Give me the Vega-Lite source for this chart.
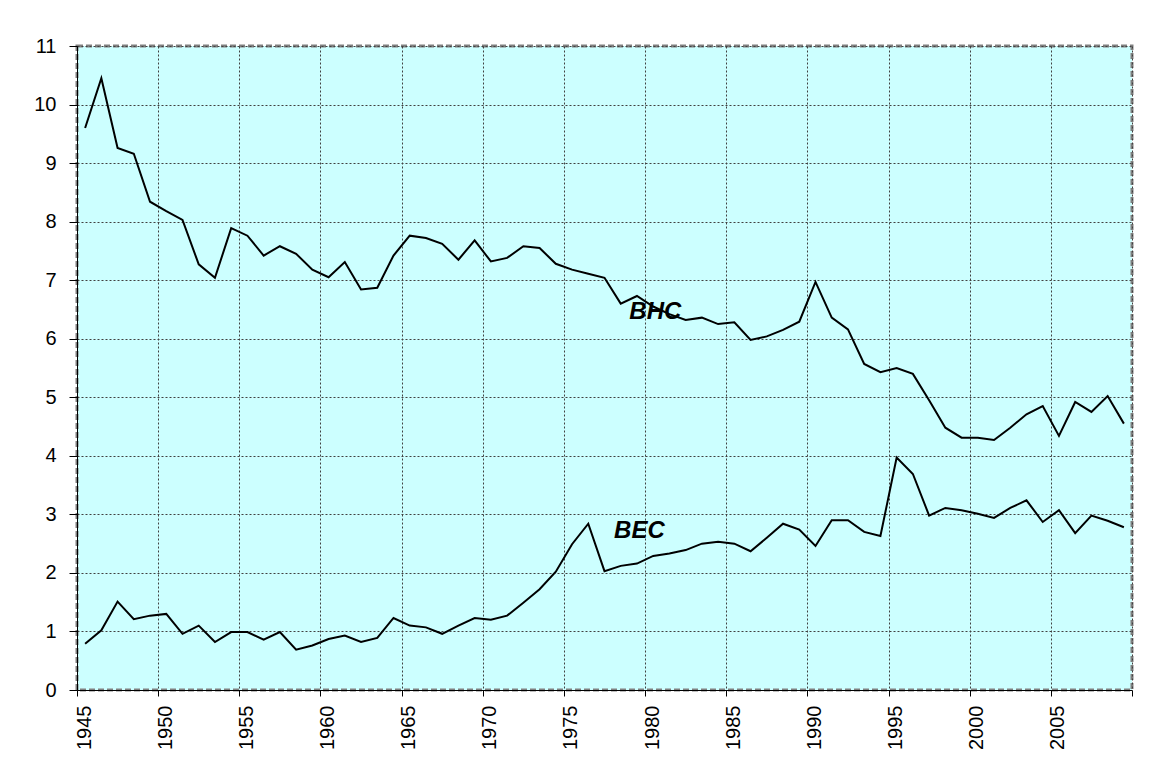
{
  "$schema": "https://vega.github.io/schema/vega-lite/v6.json",
  "width": 1055,
  "height": 644,
  "autosize": {"type": "none"},
  "padding": {"left": 77, "top": 46, "right": 43, "bottom": 86},
  "background": "white",
  "config": {
    "font": "Liberation Sans",
    "view": {"fill": "#CCFFFF", "stroke": "#808080", "strokeWidth": 3, "strokeDash": [6, 3]},
    "axis": {
      "domainColor": "#000000",
      "domainWidth": 1,
      "tickColor": "#000000",
      "tickWidth": 1,
      "gridColor": "#404040",
      "gridDash": [2, 2],
      "gridWidth": 1,
      "gridOpacity": 1,
      "labelColor": "#000000",
      "labelFont": "Liberation Sans",
      "labelFontSize": 20,
      "title": null
    }
  },
  "datasets": {
    "series": [
      {"year": 1945, "BHC": 9.6, "BEC": 0.79},
      {"year": 1946, "BHC": 10.45, "BEC": 1.02},
      {"year": 1947, "BHC": 9.26, "BEC": 1.51},
      {"year": 1948, "BHC": 9.16, "BEC": 1.21},
      {"year": 1949, "BHC": 8.34, "BEC": 1.27},
      {"year": 1950, "BHC": 8.18, "BEC": 1.30},
      {"year": 1951, "BHC": 8.03, "BEC": 0.96},
      {"year": 1952, "BHC": 7.27, "BEC": 1.10},
      {"year": 1953, "BHC": 7.04, "BEC": 0.82},
      {"year": 1954, "BHC": 7.89, "BEC": 0.99},
      {"year": 1955, "BHC": 7.76, "BEC": 0.99},
      {"year": 1956, "BHC": 7.42, "BEC": 0.86},
      {"year": 1957, "BHC": 7.58, "BEC": 0.99},
      {"year": 1958, "BHC": 7.45, "BEC": 0.69},
      {"year": 1959, "BHC": 7.18, "BEC": 0.76},
      {"year": 1960, "BHC": 7.05, "BEC": 0.87},
      {"year": 1961, "BHC": 7.31, "BEC": 0.93},
      {"year": 1962, "BHC": 6.84, "BEC": 0.82},
      {"year": 1963, "BHC": 6.87, "BEC": 0.89},
      {"year": 1964, "BHC": 7.42, "BEC": 1.23},
      {"year": 1965, "BHC": 7.76, "BEC": 1.10},
      {"year": 1966, "BHC": 7.72, "BEC": 1.07},
      {"year": 1967, "BHC": 7.62, "BEC": 0.96},
      {"year": 1968, "BHC": 7.35, "BEC": 1.10},
      {"year": 1969, "BHC": 7.68, "BEC": 1.23},
      {"year": 1970, "BHC": 7.32, "BEC": 1.20},
      {"year": 1971, "BHC": 7.38, "BEC": 1.27},
      {"year": 1972, "BHC": 7.58, "BEC": 1.49},
      {"year": 1973, "BHC": 7.55, "BEC": 1.72},
      {"year": 1974, "BHC": 7.28, "BEC": 2.02},
      {"year": 1975, "BHC": 7.18, "BEC": 2.49},
      {"year": 1976, "BHC": 7.11, "BEC": 2.84},
      {"year": 1977, "BHC": 7.04, "BEC": 2.03},
      {"year": 1978, "BHC": 6.60, "BEC": 2.12},
      {"year": 1979, "BHC": 6.73, "BEC": 2.16},
      {"year": 1980, "BHC": 6.55, "BEC": 2.29},
      {"year": 1981, "BHC": 6.42, "BEC": 2.33},
      {"year": 1982, "BHC": 6.32, "BEC": 2.39},
      {"year": 1983, "BHC": 6.36, "BEC": 2.50},
      {"year": 1984, "BHC": 6.25, "BEC": 2.53},
      {"year": 1985, "BHC": 6.28, "BEC": 2.50},
      {"year": 1986, "BHC": 5.98, "BEC": 2.37},
      {"year": 1987, "BHC": 6.04, "BEC": 2.60},
      {"year": 1988, "BHC": 6.15, "BEC": 2.84},
      {"year": 1989, "BHC": 6.29, "BEC": 2.74},
      {"year": 1990, "BHC": 6.97, "BEC": 2.46},
      {"year": 1991, "BHC": 6.36, "BEC": 2.90},
      {"year": 1992, "BHC": 6.16, "BEC": 2.90},
      {"year": 1993, "BHC": 5.57, "BEC": 2.70},
      {"year": 1994, "BHC": 5.43, "BEC": 2.63},
      {"year": 1995, "BHC": 5.50, "BEC": 3.97},
      {"year": 1996, "BHC": 5.40, "BEC": 3.69},
      {"year": 1997, "BHC": 4.95, "BEC": 2.98},
      {"year": 1998, "BHC": 4.48, "BEC": 3.11},
      {"year": 1999, "BHC": 4.31, "BEC": 3.07},
      {"year": 2000, "BHC": 4.31, "BEC": 3.01},
      {"year": 2001, "BHC": 4.27, "BEC": 2.94},
      {"year": 2002, "BHC": 4.48, "BEC": 3.11},
      {"year": 2003, "BHC": 4.71, "BEC": 3.24},
      {"year": 2004, "BHC": 4.85, "BEC": 2.87},
      {"year": 2005, "BHC": 4.34, "BEC": 3.07},
      {"year": 2006, "BHC": 4.92, "BEC": 2.68},
      {"year": 2007, "BHC": 4.75, "BEC": 2.98},
      {"year": 2008, "BHC": 5.02, "BEC": 2.89},
      {"year": 2009, "BHC": 4.55, "BEC": 2.78}
    ],
    "labels": [
      {"label": "BHC", "year": 1980.13, "value": 6.46},
      {"label": "BEC", "year": 1979.15, "value": 2.72}
    ]
  },
  "layer": [
    {
      "data": {"name": "series"},
      "mark": {"type": "line", "color": "#000000", "strokeWidth": 2},
      "encoding": {
        "x": {
          "field": "year",
          "type": "quantitative",
          "scale": {"domain": [1944.5, 2009.5], "nice": false, "zero": false},
          "axis": {
            "values": [1944.5, 1949.5, 1954.5, 1959.5, 1964.5, 1969.5, 1974.5, 1979.5, 1984.5, 1989.5, 1994.5, 1999.5, 2004.5, 2009.5],
            "labelExpr": "datum.value < 2009 ? '' + (datum.value + 0.5) : ''",
            "labelAngle": -90,
            "labelAlign": "right",
            "labelBaseline": "middle",
            "labelOffset": 7,
            "labelPadding": 9,
            "labelFontSize": 20,
            "labelFont": "Liberation Sans",
            "labelFlush": false,
            "labelOverlap": false,
            "tickSize": 6,
            "grid": true
          }
        },
        "y": {
          "field": "BHC",
          "type": "quantitative",
          "scale": {"domain": [0, 11], "nice": false},
          "axis": {
            "values": [0, 1, 2, 3, 4, 5, 6, 7, 8, 9, 10, 11],
            "format": "d",
            "tickSize": 8,
            "labelPadding": 13,
            "labelFontSize": 20,
            "labelFont": "Liberation Sans",
            "grid": true
          }
        }
      }
    },
    {
      "data": {"name": "series"},
      "mark": {"type": "line", "color": "#000000", "strokeWidth": 2},
      "encoding": {
        "x": {"field": "year", "type": "quantitative"},
        "y": {"field": "BEC", "type": "quantitative"}
      }
    },
    {
      "data": {"name": "labels"},
      "mark": {"type": "text", "fontSize": 24, "fontWeight": "bold", "fontStyle": "italic", "align": "center", "baseline": "middle", "color": "#000000", "font": "Liberation Sans"},
      "encoding": {
        "x": {"field": "year", "type": "quantitative"},
        "y": {"field": "value", "type": "quantitative"},
        "text": {"field": "label"}
      }
    }
  ]
}
